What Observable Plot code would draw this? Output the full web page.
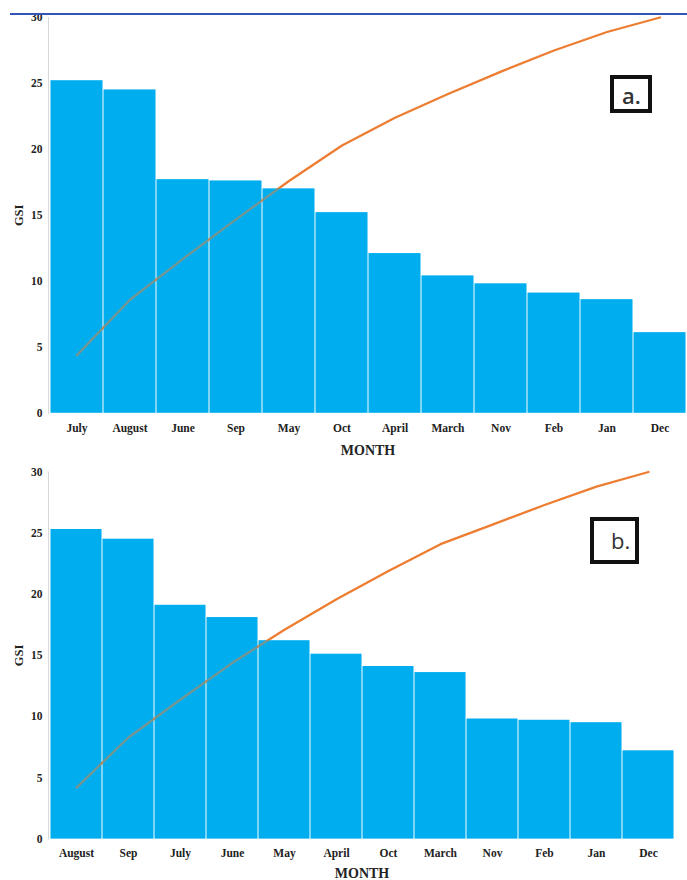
<!DOCTYPE html>
<html>
<head>
<meta charset="utf-8">
<script src="https://cdn.jsdelivr.net/npm/d3@7"></script>
<script src="https://cdn.jsdelivr.net/npm/@observablehq/plot@0.6"></script>
<style>
  html, body { margin: 0; padding: 0; background: #fff; }
  #wrap { position: relative; width: 687px; height: 880px; overflow: hidden; background: #fff; }
  #wrap svg { display: block; }
  .rule { position: absolute; left: 10px; top: 13px; width: 677px; height: 2px; background: #3355b5; }
  .tag { position: absolute; box-sizing: border-box; border: 4.5px solid #111; background: #fff;
         font-family: "Open Sans", "Liberation Sans", sans-serif; font-weight: 600; color: #333;
         font-size: 22px; line-height: 1; }
  .tag span { position: absolute; }
</style>
</head>
<body>
<div id="wrap">
  <div id="pa"></div>
  <div id="pb"></div>
  <div class="rule"></div>
  <div class="tag" style="left:610px;top:75px;width:42px;height:38px;"><span style="left:8px;top:5px;">a.</span></div>
  <div class="tag" style="left:590px;top:517px;width:49px;height:47px;font-weight:500;"><span style="left:17px;top:8px;">b.</span></div>
</div>
<script>
const yTicks = [0, 5, 10, 15, 20, 25, 30];

const monthsA = ["July", "August", "June", "Sep", "May", "Oct", "April", "March", "Nov", "Feb", "Jan", "Dec"];
const gsiA = [25.2, 24.5, 17.7, 17.6, 17.0, 15.2, 12.1, 10.4, 9.8, 9.1, 8.6, 6.1];
const cumA = [4.4, 8.6, 11.7, 14.7, 17.6, 20.3, 22.4, 24.2, 25.9, 27.5, 28.9, 30.0];

const monthsB = ["August", "Sep", "July", "June", "May", "April", "Oct", "March", "Nov", "Feb", "Jan", "Dec"];
const gsiB = [25.3, 24.5, 19.1, 18.1, 16.2, 15.1, 14.1, 13.6, 9.8, 9.7, 9.5, 7.2];
const cumB = [4.2, 8.3, 11.4, 14.4, 17.1, 19.6, 21.9, 24.1, 25.7, 27.3, 28.8, 30.0];

function panel({months, gsi, cum, height, marginTop, marginBottom, marginRight, tickPad, labelOffset}) {
  const data = months.map((m, i) => ({month: m, gsi: gsi[i], cum: cum[i]}));
  return Plot.plot({
    width: 687,
    height,
    marginTop,
    marginBottom,
    marginLeft: 48,
    marginRight,
    style: {fontFamily: "'Liberation Serif', 'DejaVu Serif', serif", fontWeight: "bold", fontSize: "11.5px", color: "#222", background: "white", overflow: "visible"},
    x: {domain: months, padding: 0},
    y: {domain: [0, 30]},
    marks: [
      Plot.frame({anchor: "left", stroke: "#d8d8d8"}),
      Plot.barY(data, {x: "month", y: "gsi", fill: "#00AEEF", insetLeft: 0.6, insetRight: 0.6}),
      Plot.line(data, {x: "month", y: "cum", stroke: "#ED7D31", strokeWidth: 2.3}),
      Plot.barY(data, {x: "month", y: "gsi", fill: "#00AEEF", fillOpacity: 0.5, insetLeft: 0.6, insetRight: 0.6}),
      Plot.axisX({tickSize: 0, tickPadding: tickPad, label: "MONTH", labelAnchor: "center", labelOffset, labelArrow: "none"}),
      Plot.axisY({ticks: yTicks, tickSize: 0, tickPadding: 6, label: "GSI", labelAnchor: "center", labelOffset: 34, labelArrow: "none"})
    ]
  });
}

const a = panel({months: monthsA, gsi: gsiA, cum: cumA, height: 460, marginTop: 17, marginBottom: 47.3, marginRight: 0, tickPad: 11, labelOffset: 42});
const b = panel({months: monthsB, gsi: gsiB, cum: cumB, height: 420, marginTop: 11.5, marginBottom: 41.5, marginRight: 12, tickPad: 10, labelOffset: 39});
document.getElementById("pa").append(a);
document.getElementById("pb").append(b);
// bigger axis titles
for (const svg of [a, b]) {
  svg.querySelectorAll("g[aria-label='x-axis label'] text").forEach(t => t.setAttribute("font-size", "14"));
  svg.querySelectorAll("g[aria-label='y-axis label'] text").forEach(t => t.setAttribute("font-size", "12.5"));
}
</script>
</body>
</html>
